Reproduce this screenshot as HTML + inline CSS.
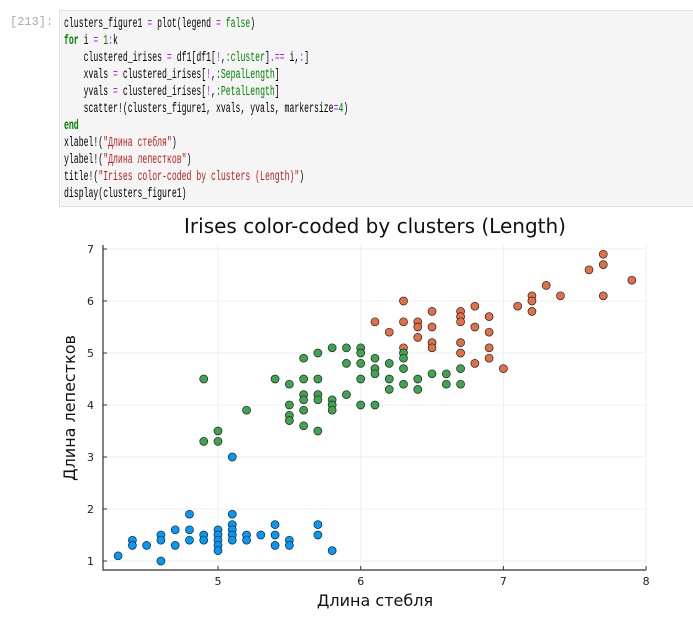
<!DOCTYPE html>
<html><head><meta charset="utf-8"><style>
body{margin:0;width:693px;height:625px;background:#fff;position:relative;overflow:hidden;font-family:"DejaVu Sans","Liberation Sans",sans-serif}
.prompt{position:absolute;left:10px;top:15px;color:#aaa;font:12px "Liberation Mono",monospace}
.cell{position:absolute;left:59px;top:10px;width:640px;height:197px;background:#f5f5f5;border:1px solid #e0e0e0;box-sizing:border-box}
.code{position:absolute;left:4px;top:5px;font:13.5px/17px "Liberation Mono",monospace;white-space:pre;color:#000;transform:scaleX(0.605);transform-origin:0 0}
.k{color:#008000;font-weight:bold}.o{color:#aa22ff}.s{color:#ba2121}.g{color:#008000}
</style></head><body>
<div class="prompt">[213]:</div>
<div class="cell"><div class="code">clusters_figure1 <span class="o">=</span> plot(legend <span class="o">=</span> <span class="g">false</span>)
<span class="k">for</span> i <span class="o">=</span> <span class="g">1</span><span class="o">:</span>k
    clustered_irises <span class="o">=</span> df1[df1[<span class="o">!</span>,<span class="g">:cluster</span>]<span class="o">.==</span> i,<span class="o">:</span>]
    xvals <span class="o">=</span> clustered_irises[<span class="o">!</span>,<span class="g">:SepalLength</span>]
    yvals <span class="o">=</span> clustered_irises[<span class="o">!</span>,<span class="g">:PetalLength</span>]
    scatter!(clusters_figure1, xvals, yvals, markersize<span class="o">=</span><span class="g">4</span>)
<span class="k">end</span>
xlabel!(<span class="s">"Длина стебля"</span>)
ylabel!(<span class="s">"Длина лепестков"</span>)
title!(<span class="s">"Irises color-coded by clusters (Length)"</span>)
display(clusters_figure1)</div></div>
<svg id="chart" width="693" height="625" style="position:absolute;left:0;top:0"></svg>
<script>
const blueX=[4.3,4.4,4.4,4.5,4.6,4.6,4.6,4.7,4.7,4.8,4.8,4.8,4.9,4.9,5.0,5.0,5.0,5.0,5.0,5.1,5.1,5.1,5.1,5.1,5.1,5.2,5.2,5.3,5.4,5.4,5.4,5.5,5.5,5.7,5.7,5.8];
const blueY=[1.1,1.4,1.3,1.3,1.5,1.4,1.0,1.6,1.3,1.6,1.9,1.4,1.5,1.4,1.6,1.5,1.4,1.3,1.2,1.9,1.7,1.6,1.5,1.4,3.0,1.5,1.4,1.5,1.7,1.5,1.3,1.4,1.3,1.7,1.5,1.2];
const greenX=[4.9,4.9,5.0,5.0,5.2,5.4,5.5,5.5,5.5,5.5,5.6,5.6,5.6,5.6,5.6,5.6,5.7,5.7,5.7,5.7,5.7,5.8,5.8,5.8,5.8,5.9,5.9,5.9,6.0,6.0,6.0,6.0,6.0,6.1,6.1,6.1,6.1,6.2,6.2,6.2,6.3,6.3,6.3,6.3,6.4,6.4,6.5,6.6,6.6,6.7,6.7];
const greenY=[4.5,3.3,3.5,3.3,3.9,4.5,4.4,4.0,3.8,3.7,4.9,4.5,4.2,4.1,3.9,3.6,5.0,4.5,4.2,4.1,3.5,5.1,4.1,4.0,3.9,5.1,4.8,4.2,5.1,5.0,4.8,4.5,4.0,4.9,4.7,4.6,4.0,4.8,4.5,4.3,5.0,4.9,4.7,4.4,4.5,4.3,4.6,4.6,4.4,4.7,4.4];
const redX=[6.1,6.2,6.3,6.3,6.3,6.4,6.4,6.4,6.5,6.5,6.5,6.5,6.7,6.7,6.7,6.7,6.7,6.8,6.8,6.8,6.9,6.9,6.9,6.9,7.0,7.1,7.2,7.2,7.2,7.3,7.4,7.6,7.7,7.7,7.7,7.9];
const redY=[5.6,5.4,6.0,5.6,5.1,5.6,5.5,5.3,5.8,5.5,5.2,5.1,5.8,5.7,5.6,5.2,5.0,5.9,5.5,4.8,5.7,5.4,5.1,4.9,4.7,5.9,6.1,6.0,5.8,6.3,6.1,6.6,6.9,6.7,6.1,6.4];
const xTicks=[5,6,7,8];
const yTicks=[1,2,3,4,5,6,7];
const L=103,R=646,T=245,B=570;
const xs=v=>218+(v-5)*142.7;
const ys=v=>561-(v-1)*52;
const svg=document.getElementById('chart');
const NS='http://www.w3.org/2000/svg';
const FF='DejaVu Sans, Liberation Sans, sans-serif';
function mk(t,a){const e=document.createElementNS(NS,t);for(const k in a)e.setAttribute(k,a[k]);svg.appendChild(e);return e;}
xTicks.forEach(v=>{
 const g=mk('line',{x1:xs(v),x2:xs(v),y1:T,y2:B,stroke:'#efefef','stroke-width':1});
 
 
 const tk=mk('line',{x1:xs(v),x2:xs(v),y1:B,y2:B-4,stroke:'#333'});
 
 
 const t=mk('text',{x:xs(v),y:B+15,'text-anchor':'middle','font-size':11,fill:'#222','font-family':FF});
 t.textContent=v;
 
 
});
yTicks.forEach(v=>{
 const g=mk('line',{x1:L,x2:R,y1:ys(v),y2:ys(v),stroke:'#efefef','stroke-width':1});
 
 
 const tk=mk('line',{x1:L,x2:L+4,y1:ys(v),y2:ys(v),stroke:'#333'});
 
 
 const t=mk('text',{x:L-9,y:ys(v)+4,'text-anchor':'end','font-size':11,fill:'#222','font-family':FF});
 t.textContent=v;
 
 
});
const ax=mk('path',{d:`M${L},${T} V${B} H${R}`,fill:'none',stroke:'#333','stroke-width':1.2});


function series(X,Y,col,name){X.forEach((x,i)=>{
 const c=mk('circle',{cx:xs(x),cy:ys(Y[i]),r:4,fill:col,stroke:'#222','stroke-width':0.7});
 
 
});}
series(blueX,blueY,'#009AFA','point-cluster-1');
series(redX,redY,'#E36F47','point-cluster-2');
series(greenX,greenY,'#3EA44E','point-cluster-3');
const tt=mk('text',{x:375,y:233,'text-anchor':'middle','font-size':20,fill:'#111','font-family':FF});
tt.textContent='Irises color-coded by clusters (Length)';


const xl=mk('text',{x:375,y:606,'text-anchor':'middle','font-size':16,fill:'#111','font-family':FF});
xl.textContent='Длина стебля';


const yl=mk('text',{x:0,y:0,'text-anchor':'middle','font-size':16,fill:'#111','font-family':FF,transform:'translate(75,408) rotate(-90)'});
yl.textContent='Длина лепестков';


</script>
</body></html>
